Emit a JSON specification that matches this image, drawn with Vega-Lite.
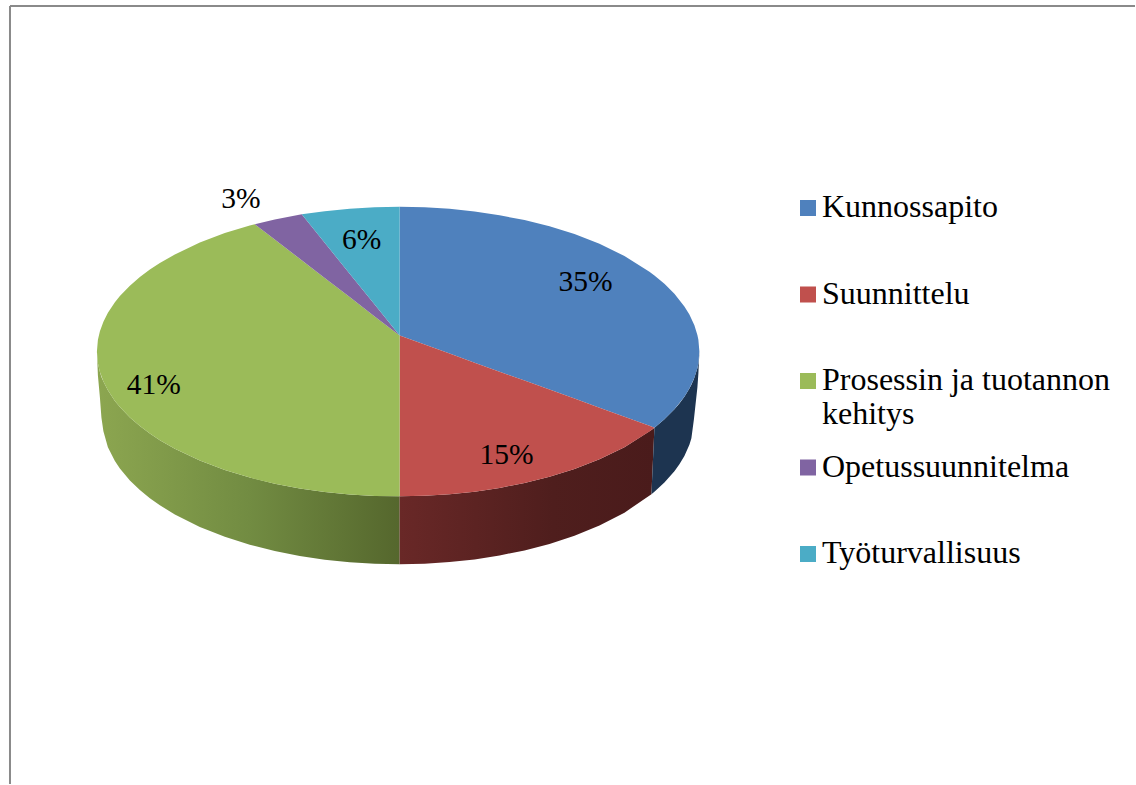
{
  "$schema": "https://vega.github.io/schema/vega-lite/v6.json",
  "width": 1136,
  "height": 785,
  "autosize": {"type": "fit", "contains": "padding"},
  "padding": 0,
  "background": "white",
  "view": {"stroke": null},
  "datasets": {
    "frame": [
      {"x": -390, "x2": 736, "y": 330, "y2": 330},
      {"x": -390, "x2": -390, "y": 330, "y2": -449}
    ],
    "shares": [
      {"name": "Kunnossapito", "share": 0.35, "lx": 186, "ly": 54},
      {"name": "Suunnittelu", "share": 0.15, "lx": 107, "ly": -120},
      {"name": "Prosessin ja tuotannon kehitys", "share": 0.41, "lx": -246, "ly": -49},
      {"name": "Opetussuunnitelma", "share": 0.03, "lx": -159, "ly": 137},
      {"name": "Työturvallisuus", "share": 0.06, "lx": -38, "ly": 96}
    ],
    "top": [
      {"name": "Kunnossapito", "x": 0, "y": 129, "y2": 0},
      {"name": "Kunnossapito", "x": 25, "y": 128.4, "y2": -9},
      {"name": "Kunnossapito", "x": 50, "y": 126.9, "y2": -18},
      {"name": "Kunnossapito", "x": 75, "y": 124.3, "y2": -27.1},
      {"name": "Kunnossapito", "x": 100, "y": 120.5, "y2": -36.1},
      {"name": "Kunnossapito", "x": 125, "y": 115.6, "y2": -45.1},
      {"name": "Kunnossapito", "x": 150, "y": 109.4, "y2": -54.1},
      {"name": "Kunnossapito", "x": 175, "y": 101.6, "y2": -63.1},
      {"name": "Kunnossapito", "x": 200, "y": 91.9, "y2": -72.2},
      {"name": "Kunnossapito", "x": 225, "y": 79.7, "y2": -81.2},
      {"name": "Kunnossapito", "x": 250, "y": 64, "y2": -90.2},
      {"name": "Kunnossapito", "x": 255, "y": 60.2, "y2": -92.2},
      {"name": "Kunnossapito", "x": 265, "y": 51.8, "y2": -83.8},
      {"name": "Kunnossapito", "x": 275, "y": 41.8, "y2": -73.8},
      {"name": "Kunnossapito", "x": 285, "y": 29.2, "y2": -61.2},
      {"name": "Kunnossapito", "x": 290, "y": 21, "y2": -53},
      {"name": "Kunnossapito", "x": 295, "y": 10.3, "y2": -42.3},
      {"name": "Kunnossapito", "x": 298, "y": 0.6, "y2": -32.6},
      {"name": "Kunnossapito", "x": 299, "y": -4.2, "y2": -27.8},
      {"name": "Kunnossapito", "x": 300, "y": -16, "y2": -16},

      {"name": "Suunnittelu", "x": 0, "y": 0, "y2": -161},
      {"name": "Suunnittelu", "x": 25, "y": -9, "y2": -160.4},
      {"name": "Suunnittelu", "x": 50, "y": -18, "y2": -158.9},
      {"name": "Suunnittelu", "x": 75, "y": -27.1, "y2": -156.3},
      {"name": "Suunnittelu", "x": 100, "y": -36.1, "y2": -152.5},
      {"name": "Suunnittelu", "x": 125, "y": -45.1, "y2": -147.6},
      {"name": "Suunnittelu", "x": 150, "y": -54.1, "y2": -141.4},
      {"name": "Suunnittelu", "x": 175, "y": -63.1, "y2": -133.6},
      {"name": "Suunnittelu", "x": 200, "y": -72.2, "y2": -123.9},
      {"name": "Suunnittelu", "x": 225, "y": -81.2, "y2": -111.7},
      {"name": "Suunnittelu", "x": 250, "y": -90.2, "y2": -96},
      {"name": "Suunnittelu", "x": 255, "y": -92.2, "y2": -92.2},

      {"name": "Prosessin ja tuotannon kehitys", "x": -303, "y": -16, "y2": -16},
      {"name": "Prosessin ja tuotannon kehitys", "x": -302, "y": -4.2, "y2": -27.8},
      {"name": "Prosessin ja tuotannon kehitys", "x": -300, "y": 4.4, "y2": -36.4},
      {"name": "Prosessin ja tuotannon kehitys", "x": -296.5, "y": 13.9, "y2": -45.9},
      {"name": "Prosessin ja tuotannon kehitys", "x": -292, "y": 22.8, "y2": -54.8},
      {"name": "Prosessin ja tuotannon kehitys", "x": -285, "y": 33.4, "y2": -65.4},
      {"name": "Prosessin ja tuotannon kehitys", "x": -280, "y": 39.5, "y2": -71.5},
      {"name": "Prosessin ja tuotannon kehitys", "x": -270, "y": 50, "y2": -82},
      {"name": "Prosessin ja tuotannon kehitys", "x": -260, "y": 58.6, "y2": -90.6},
      {"name": "Prosessin ja tuotannon kehitys", "x": -250, "y": 66.1, "y2": -98.1},
      {"name": "Prosessin ja tuotannon kehitys", "x": -240, "y": 72.7, "y2": -104.7},
      {"name": "Prosessin ja tuotannon kehitys", "x": -225, "y": 81.3, "y2": -113.3},
      {"name": "Prosessin ja tuotannon kehitys", "x": -200, "y": 93.1, "y2": -125.1},
      {"name": "Prosessin ja tuotannon kehitys", "x": -175, "y": 102.6, "y2": -134.6},
      {"name": "Prosessin ja tuotannon kehitys", "x": -150, "y": 110.2, "y2": -142.2},
      {"name": "Prosessin ja tuotannon kehitys", "x": -145, "y": 111.5, "y2": -143.5},
      {"name": "Prosessin ja tuotannon kehitys", "x": -125, "y": 96.1, "y2": -148.3},
      {"name": "Prosessin ja tuotannon kehitys", "x": -100, "y": 76.9, "y2": -153},
      {"name": "Prosessin ja tuotannon kehitys", "x": -75, "y": 57.7, "y2": -156.6},
      {"name": "Prosessin ja tuotannon kehitys", "x": -50, "y": 38.5, "y2": -159.1},
      {"name": "Prosessin ja tuotannon kehitys", "x": -25, "y": 19.2, "y2": -160.6},
      {"name": "Prosessin ja tuotannon kehitys", "x": 0, "y": 0, "y2": -161},

      {"name": "Opetussuunnitelma", "x": -145, "y": 111.5, "y2": 111.5},
      {"name": "Opetussuunnitelma", "x": -125, "y": 116.3, "y2": 96.1},
      {"name": "Opetussuunnitelma", "x": -98, "y": 121.4, "y2": 75.4},
      {"name": "Opetussuunnitelma", "x": -75, "y": 92.9, "y2": 57.7},
      {"name": "Opetussuunnitelma", "x": -50, "y": 61.9, "y2": 38.5},
      {"name": "Opetussuunnitelma", "x": -25, "y": 31, "y2": 19.2},
      {"name": "Opetussuunnitelma", "x": 0, "y": 0, "y2": 0},

      {"name": "Työturvallisuus", "x": -98, "y": 121.4, "y2": 121.4},
      {"name": "Työturvallisuus", "x": -75, "y": 124.6, "y2": 92.9},
      {"name": "Työturvallisuus", "x": -50, "y": 127.1, "y2": 61.9},
      {"name": "Työturvallisuus", "x": -25, "y": 128.6, "y2": 31},
      {"name": "Työturvallisuus", "x": 0, "y": 129, "y2": 0}
    ],
    "sideGreen": [
      {"x": -303, "y": -16, "y2": -16},
      {"x": -302, "y": -27.8, "y2": -40},
      {"x": -300, "y": -36.4, "y2": -62},
      {"x": -298.5, "y": -41.5, "y2": -82},
      {"x": -296.5, "y": -45.9, "y2": -95.9},
      {"x": -292, "y": -54.8, "y2": -111.8},
      {"x": -285, "y": -65.4, "y2": -125.7},
      {"x": -280, "y": -71.5, "y2": -133.1},
      {"x": -270, "y": -82, "y2": -145},
      {"x": -260, "y": -90.6, "y2": -154.6},
      {"x": -250, "y": -98.1, "y2": -162.8},
      {"x": -240, "y": -104.7, "y2": -169.9},
      {"x": -225, "y": -113.3, "y2": -179.1},
      {"x": -200, "y": -125.1, "y2": -191.6},
      {"x": -175, "y": -134.6, "y2": -201.5},
      {"x": -150, "y": -142.2, "y2": -209.4},
      {"x": -125, "y": -148.3, "y2": -215.8},
      {"x": -100, "y": -153, "y2": -220.7},
      {"x": -75, "y": -156.6, "y2": -224.5},
      {"x": -50, "y": -159.1, "y2": -227},
      {"x": -25, "y": -160.6, "y2": -228.5},
      {"x": 0, "y": -161, "y2": -229}
    ],
    "sideRed": [
      {"x": 0, "y": -161, "y2": -229},
      {"x": 25, "y": -160.4, "y2": -228.4},
      {"x": 50, "y": -158.9, "y2": -226.8},
      {"x": 75, "y": -156.3, "y2": -224.1},
      {"x": 100, "y": -152.5, "y2": -220.2},
      {"x": 125, "y": -147.6, "y2": -215.1},
      {"x": 150, "y": -141.4, "y2": -208.6},
      {"x": 175, "y": -133.6, "y2": -200.4},
      {"x": 200, "y": -123.9, "y2": -190.2},
      {"x": 225, "y": -111.7, "y2": -177.3},
      {"x": 252, "y": -94.5, "y2": -158.9},
      {"x": 255, "y": -92.2, "y2": -92.2}
    ],
    "sideBlue": [
      {"x": 252, "y": -158.9, "y2": -158.9},
      {"x": 255, "y": -92.2, "y2": -156.4},
      {"x": 265, "y": -83.8, "y2": -147.1},
      {"x": 275, "y": -73.8, "y2": -135.8},
      {"x": 280, "y": -67.9, "y2": -128.8},
      {"x": 285, "y": -61.2, "y2": -120.5},
      {"x": 290, "y": -53, "y2": -109.2},
      {"x": 292, "y": -49.2, "y2": -102.8},
      {"x": 294.5, "y": -43.6, "y2": -84},
      {"x": 298, "y": -32.6, "y2": -52},
      {"x": 299, "y": -27.8, "y2": -38},
      {"x": 300, "y": -16, "y2": -16}
    ]
  },
  "encoding": {
    "x": {"type": "quantitative", "field": "x", "scale": {"domain": [-400, 736], "nice": false, "zero": false}, "axis": null},
    "y": {"type": "quantitative", "field": "y", "scale": {"domain": [-449, 336], "nice": false, "zero": false}, "axis": null}
  },
  "layer": [
    {
      "data": {"name": "frame"},
      "mark": {"type": "rule", "color": "#8a8a8a", "strokeWidth": 2},
      "encoding": {"x2": {"field": "x2"}, "y2": {"field": "y2"}}
    },
    {
      "data": {"name": "sideGreen"},
      "mark": {
        "type": "area",
        "color": {
          "gradient": "linear", "x1": 0, "x2": 1, "y1": 0, "y2": 0,
          "stops": [
            {"offset": 0, "color": "#8ca650"},
            {"offset": 0.5, "color": "#728c42"},
            {"offset": 1, "color": "#55672d"}
          ]
        }
      },
      "encoding": {"y2": {"field": "y2"}}
    },
    {
      "data": {"name": "sideRed"},
      "mark": {
        "type": "area",
        "color": {
          "gradient": "linear", "x1": 0, "x2": 1, "y1": 0, "y2": 0,
          "stops": [
            {"offset": 0, "color": "#692827"},
            {"offset": 0.6, "color": "#4f1e1d"},
            {"offset": 1, "color": "#4a1b1b"}
          ]
        }
      },
      "encoding": {"y2": {"field": "y2"}}
    },
    {
      "data": {"name": "sideBlue"},
      "mark": {"type": "area", "color": "#1d3450"},
      "encoding": {"y2": {"field": "y2"}}
    },
    {
      "data": {"name": "top"},
      "mark": {"type": "area"},
      "encoding": {
        "y2": {"field": "y2"},
        "color": {
          "field": "name",
          "type": "nominal",
          "scale": {
            "domain": ["Kunnossapito", "Suunnittelu", "Prosessin ja tuotannon kehitys", "Opetussuunnitelma", "Työturvallisuus"],
            "range": ["#4f81bd", "#c0504d", "#9bbb59", "#8064a2", "#4bacc6"]
          },
          "legend": {
            "title": null,
            "orient": "none",
            "legendX": 792,
            "legendY": 190,
            "symbolType": "square",
            "symbolSize": 256,
            "symbolStrokeWidth": 0,
            "labelFont": "Liberation Serif",
            "labelFontSize": 32,
            "labelColor": "black",
            "labelLimit": 340,
            "labelOffset": -2,
            "labelLineHeight": 37,
            "labelBaseline": "alphabetic",
            "clipHeight": 36,
            "gridAlign": "all",
            "rowPadding": 19.5,
            "labelExpr": "datum.label === 'Prosessin ja tuotannon kehitys' ? ['Prosessin ja tuotannon', 'kehitys'] : datum.label",
            "encoding": {"labels": {"dy": {"value": 9}}}
          }
        }
      }
    },
    {
      "data": {"name": "shares"},
      "mark": {"type": "text", "font": "Liberation Serif", "fontSize": 29.5, "color": "black", "align": "center", "baseline": "middle"},
      "encoding": {
        "x": {"field": "lx", "type": "quantitative"},
        "y": {"field": "ly", "type": "quantitative"},
        "text": {"field": "share", "type": "quantitative", "format": ".0%"}
      }
    }
  ]
}
